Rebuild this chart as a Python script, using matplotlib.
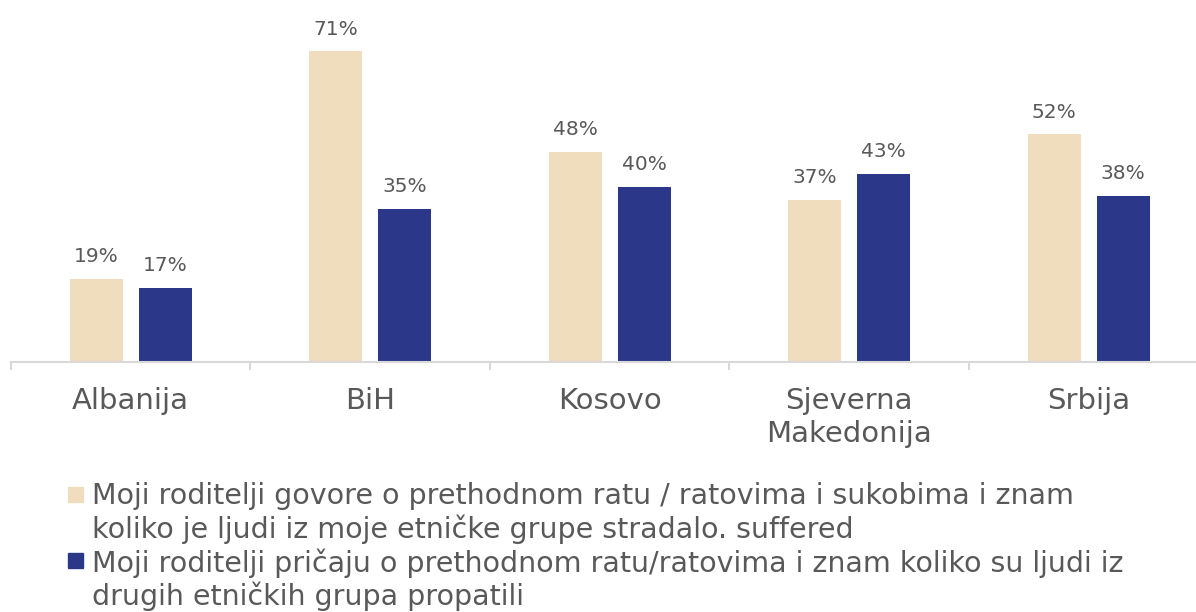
import numpy as np
import matplotlib.pyplot as plt
from matplotlib.patches import Rectangle

plt.rcParams['font.family'] = ['DejaVu Sans']

countries = ['Albanija', 'BiH', 'Kosovo', 'Sjeverna\nMakedonija', 'Srbija']
own_group = [19, 71, 48, 37, 52]
other_groups = [17, 35, 40, 43, 38]
legend_labels = [
    'Moji roditelji govore o prethodnom ratu / ratovima i sukobima i znam\n'
    'koliko je ljudi iz moje etničke grupe stradalo. suffered',
    'Moji roditelji pričaju o prethodnom ratu/ratovima i znam koliko su ljudi iz\n'
    'drugih etničkih grupa propatili',
]

beige = '#F0DDBE'
blue = '#2B388A'
txt = '#595959'

W, H = 1196, 612
fig = plt.figure(figsize=(W / 100, H / 100), dpi=100)
# axes in pixel terms: left 11, right edge of image, baseline at y=362
ax = fig.add_axes([11 / W, (H - 362) / H, (W - 11) / W, 350.4 / H])

x = np.arange(len(countries))
off = 0.144
bw = 0.222
b1 = ax.bar(x - off, own_group, bw, color=beige)
b2 = ax.bar(x + off, other_groups, bw, color=blue)

for bars, vals in ((b1, own_group), (b2, other_groups)):
    for b, v in zip(bars, vals):
        ax.annotate(f'{v}%', (b.get_x() + b.get_width() / 2, v),
                    xytext=(0, 9), textcoords='offset points',
                    ha='center', va='bottom', fontsize=14.5, color=txt)

for s in ['top', 'right', 'left']:
    ax.spines[s].set_visible(False)
ax.spines['bottom'].set_color('#D9D9D9')
ax.spines['bottom'].set_linewidth(1.5)
ax.set_yticks([])
ax.set_xticks(x)
ax.set_xticklabels(countries, fontsize=21, color=txt, linespacing=1.22)
ax.tick_params(axis='x', which='major', length=0, pad=18)
ax.set_xticks(np.arange(-0.5, 4.6, 1), minor=True)
ax.tick_params(axis='x', which='minor', length=6, width=1.5, color='#D9D9D9')
# limits after the ticks, otherwise set_xticks widens them again
ax.set_ylim(0, 80)
ax.set_xlim(-0.5, 4.448)

# legend drawn by hand so the swatch sits beside the first line
rows = [487, 553]
for lab, col, top in zip(legend_labels, [beige, blue], rows):
    fig.patches.append(Rectangle((68 / W, 1 - (top + 15) / H), 15 / W, 15 / H,
                                 transform=fig.transFigure, color=col))
    fig.text(92 / W, 1 - (top - 5) / H, lab, ha='left', va='top',
             fontsize=20.5, color=txt, linespacing=1.18)

fig.savefig('out.png', dpi=100)
